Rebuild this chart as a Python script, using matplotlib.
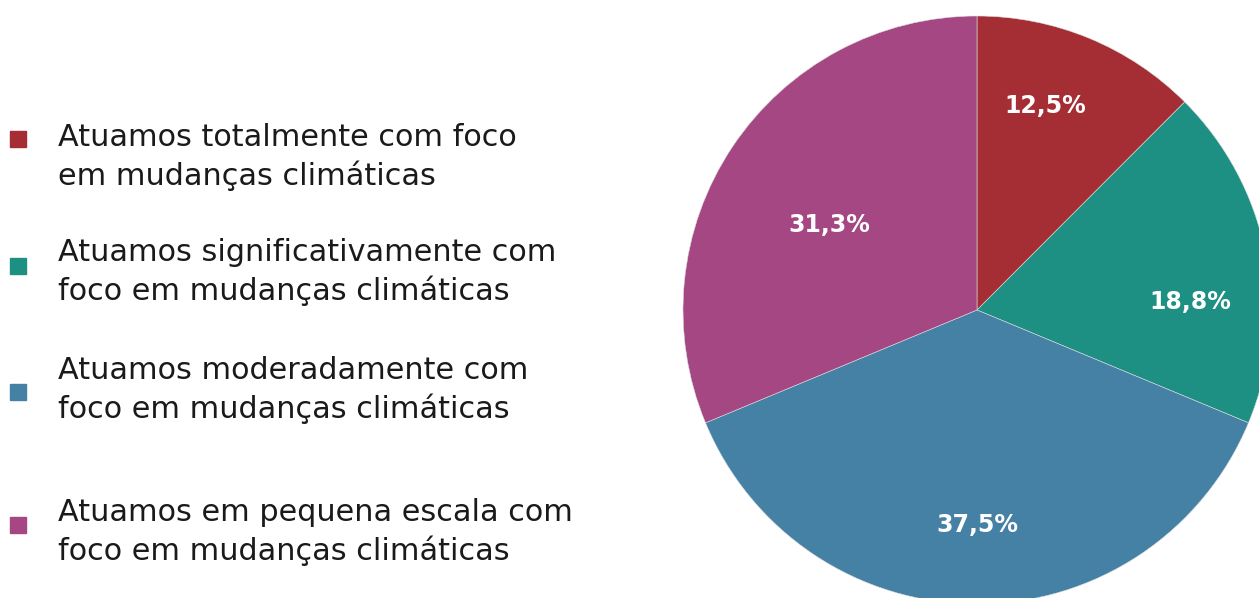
import matplotlib
matplotlib.use('Agg')
import matplotlib.pyplot as plt
from matplotlib.patches import Rectangle
import numpy as np

# Dados
categorias = [
    'Atuamos totalmente com foco\nem mudanças climáticas',
    'Atuamos significativamente com\nfoco em mudanças climáticas',
    'Atuamos moderadamente com\nfoco em mudanças climáticas',
    'Atuamos em pequena escala com\nfoco em mudanças climáticas',
]
valores = [12.5, 18.8, 37.5, 31.3]
rotulos = ['12,5%', '18,8%', '37,5%', '31,3%']
cores = ['#A52D34', '#1E9083', '#4580A5', '#A44783']

W, H = 1259, 598
fig = plt.figure(figsize=(W / 100, H / 100), dpi=100)

# Eixo da pizza (centro ~ (977, 310), raio ~ 294 px)
cx, cy, r = 977, 310, 294
ax = fig.add_axes([(cx - r) / W, (H - cy - r) / H, 2 * r / W, 2 * r / H])
wedges, _ = ax.pie(valores, colors=cores, startangle=90, counterclock=False,
                   radius=1, wedgeprops=dict(linewidth=0.4, edgecolor='#dddddd'))
ax.set_xlim(-1, 1)
ax.set_ylim(-1, 1)
ax.set_aspect('equal')
ax.axis('off')

# Rótulos percentuais (distância ao centro e ajuste de ângulo)
dist = [0.73, 0.725, 0.73, 0.58]
desvio = [4, -9, 0, 4]
for w, txt, d, da in zip(wedges, rotulos, dist, desvio):
    ang = np.radians((w.theta1 + w.theta2) / 2 + da)
    ax.text(d * np.cos(ang), d * np.sin(ang), txt,
            color='white', fontsize=17, fontweight='bold', family='DejaVu Sans',
            ha='center', va='center')

# Legenda manual
y_texto = [157, 272, 390, 532]
y_marca = [139, 266, 392, 525]
for cat, cor, yt, ym in zip(categorias, cores, y_texto, y_marca):
    fig.patches.append(Rectangle((10 / W, 1 - (ym + 8) / H), 16 / W, 16 / H,
                                 transform=fig.transFigure, color=cor))
    fig.text(58 / W, 1 - yt / H, cat, fontsize=21.8, family='DejaVu Sans',
             color='#1a1a1a', va='center', ha='left', linespacing=1.33)

fig.savefig('out.png', dpi=100)
